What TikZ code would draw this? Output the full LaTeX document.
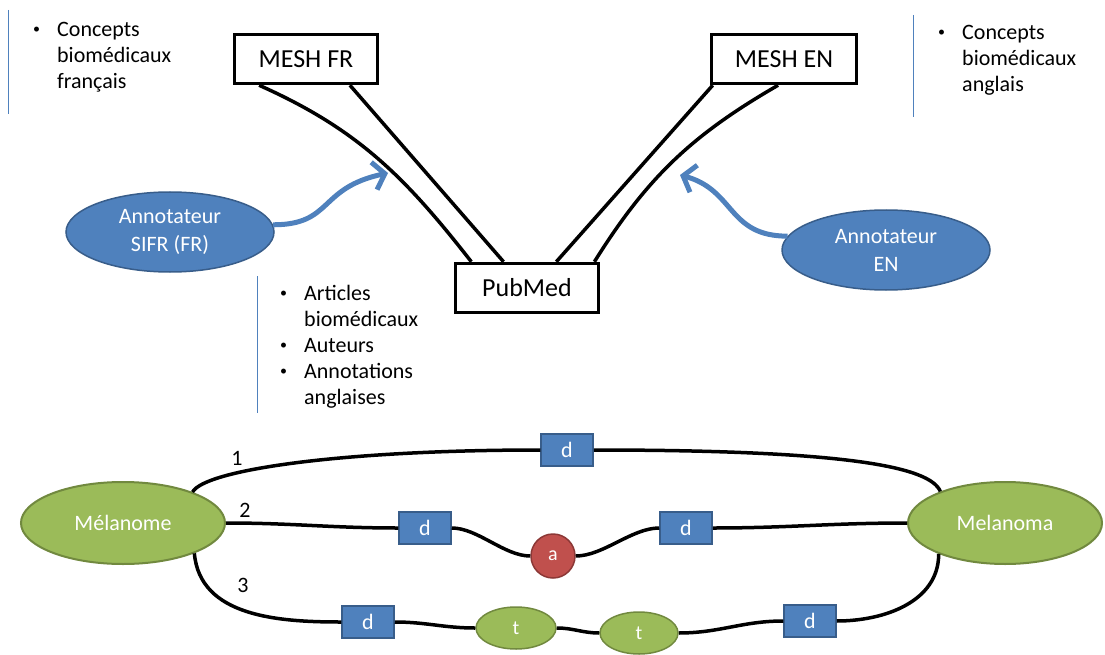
\documentclass[tikz,border=0pt]{standalone}
\usepackage{fontspec}
\setmainfont{Carlito}
\usepackage{xcolor}
\usepackage{tikz}
\usetikzlibrary{
  shapes.geometric,
  arrows.meta,
  positioning,
  calc
}
\definecolor{boxblue}{RGB}{79,129,189}
\definecolor{boxbluedark}{RGB}{56,93,138}
\definecolor{nodegreen}{RGB}{155,187,89}
\definecolor{nodegreendark}{RGB}{113,137,63}
\definecolor{nodered}{RGB}{192,80,77}
\definecolor{noderedborder}{RGB}{140,56,54}
\newcommand{\smallbullet}{\raisebox{3pt}{\fontsize{14}{14}\selectfont\textbullet}}
\newcommand{\bulletlist}[1]{\begin{tabular}[t]{@{}p{24pt}@{}l@{}}#1\end{tabular}}

\begin{document}
\begin{tikzpicture}[
  x=1pt, y=-1pt,
  meshbox/.style={rectangle, draw, line width=3.5pt, minimum width=143pt, minimum height=49pt, inner sep=0pt, font=\fontsize{26}{30}\selectfont},
  annot/.style={ellipse, draw=boxbluedark, fill=boxblue, line width=1.5pt, text=white, align=center, inner sep=0pt, minimum width=208pt, minimum height=80pt, font=\fontsize{22}{28}\selectfont},
  term/.style={ellipse, draw=nodegreendark, fill=nodegreen, line width=2pt, text=white, inner sep=0pt, minimum height=82pt, font=\fontsize{22}{26}\selectfont},
  dbox/.style={rectangle, draw=boxbluedark, fill=boxblue, line width=1.5pt, text=white, inner sep=0pt, minimum width=52pt, minimum height=32pt, font=\fontsize{22}{26}\selectfont},
  abox/.style={circle, draw=noderedborder, fill=nodered, line width=1.5pt, text=white, inner sep=0pt, minimum size=44pt, font=\fontsize{20}{24}\selectfont},
  tbox/.style={ellipse, draw=nodegreendark, fill=nodegreen, line width=1.5pt, text=white, inner sep=0pt, minimum width=78pt, minimum height=42pt, font=\fontsize{20}{24}\selectfont},
  listtext/.style={anchor=base west, inner sep=0pt, font=\fontsize{22}{26}\selectfont},
  pathnum/.style={inner sep=0pt, font=\fontsize{22}{26}\selectfont},
  meshlink/.style={line width=3.5pt},
  link/.style={line width=3.5pt},
  annotarrow/.style={draw=boxblue, line width=5pt, -{Straight Barb[length=11pt, width=28pt]}},
  sidebar/.style={draw=boxblue, line width=1pt}
]
  \useasboundingbox (0,0) rectangle (1105,655);

  \node[meshbox] (meshfr) at (306,59) {MESH FR};
  \node[meshbox, minimum width=145pt] (meshen) at (784,59) {MESH EN};
  \node[meshbox] (pubmed) at (527,288) {PubMed};

  \node[annot] (sifr) at (170,232) {Annotateur\\SIFR (FR)};
  \node[annot] (annoten) at (886,250) {Annotateur\\EN};

  \draw[meshlink] ($(meshfr.south west)!0.18!(meshfr.south east)$) to[out=-24, in=128] ($(pubmed.north west)!0.12!(pubmed.north east)$);
  \draw[meshlink] ($(meshfr.south west)!0.80!(meshfr.south east)$) -- ($(pubmed.north west)!0.34!(pubmed.north east)$);
  \draw[meshlink] ($(meshen.south west)!0.02!(meshen.south east)$) -- ($(pubmed.north west)!0.70!(pubmed.north east)$);
  \draw[meshlink] ($(meshen.south west)!0.46!(meshen.south east)$) to[out=-150, in=58] ($(pubmed.north west)!0.96!(pubmed.north east)$);

  \coordinate (frtip) at (388,173);
  \coordinate (entip) at (680,175);
  \draw[annotarrow] (sifr.4) .. controls +(60,0) and +(-70,15) .. (frtip);
  \draw[annotarrow] (annoten.172) .. controls +(-60,0) and +(55,15) .. (entip);

  \draw[sidebar] (8,10) -- (8,114);
  \draw[sidebar] (913,15) -- (913,117);
  \draw[sidebar] (257,276) -- (257,413);

  \node[listtext] (frlist) at (33,37) {\bulletlist{\smallbullet & Concepts\\ & biomédicaux\\ & français}};
  \node[listtext] (enlist) at (938,40) {\bulletlist{\smallbullet & Concepts\\ & biomédicaux\\ & anglais}};
  \node[listtext] (publist) at (280,300) {\bulletlist{\smallbullet & Articles\\ & biomédicaux\\ \smallbullet & Auteurs\\ \smallbullet & Annotations\\ & anglaises}};

  \node[term, minimum width=204pt] (melanome) at (123,523) {Mélanome};
  \node[term, minimum width=194pt] (melanoma) at (1005,523) {Melanoma};
  \node[dbox] (d1) at (567,450) {d};
  \node[dbox] (d2) at (425,528) {d};
  \node[abox] (a) at (553,556) {a};
  \node[dbox] (d3) at (686,528) {d};
  \node[dbox] (d4) at (368,622) {d};
  \node[tbox, minimum width=80pt] (t1) at (516,628) {t};
  \node[tbox] (t2) at (639,633) {t};
  \node[dbox] (d5) at (810,621) {d};

  \draw[link] (melanome.24) .. controls +(12,-22) and +(-200,0) .. (d1.west);
  \draw[link] (d1.east) .. controls +(250,0) and +(-10,-25) .. (melanoma.154);
  \draw[link] (melanome.east) to[out=0, in=180] (d2.west);
  \draw[link] (d2.east) to[out=0, in=180, looseness=0.8] (a.west);
  \draw[link] (a.east) to[out=0, in=180, looseness=0.8] (d3.west);
  \draw[link] (d3.east) to[out=0, in=180] (melanoma.west);
  \draw[link] (melanome.-23) to[out=-85, in=180] (d4.west);
  \draw[link] (d4.east) to[out=0, in=180] (t1.west);
  \draw[link] (t1.east) to[out=0, in=180] (t2.west);
  \draw[link] (t2.east) to[out=0, in=180] (d5.west);
  \draw[link] (d5.east) to[out=0, in=-90] (melanoma.-155);

  \node[pathnum] (num1) at (237,458) {1};
  \node[pathnum] (num2) at (245,510) {2};
  \node[pathnum] (num3) at (243,585) {3};
\end{tikzpicture}
\end{document}
